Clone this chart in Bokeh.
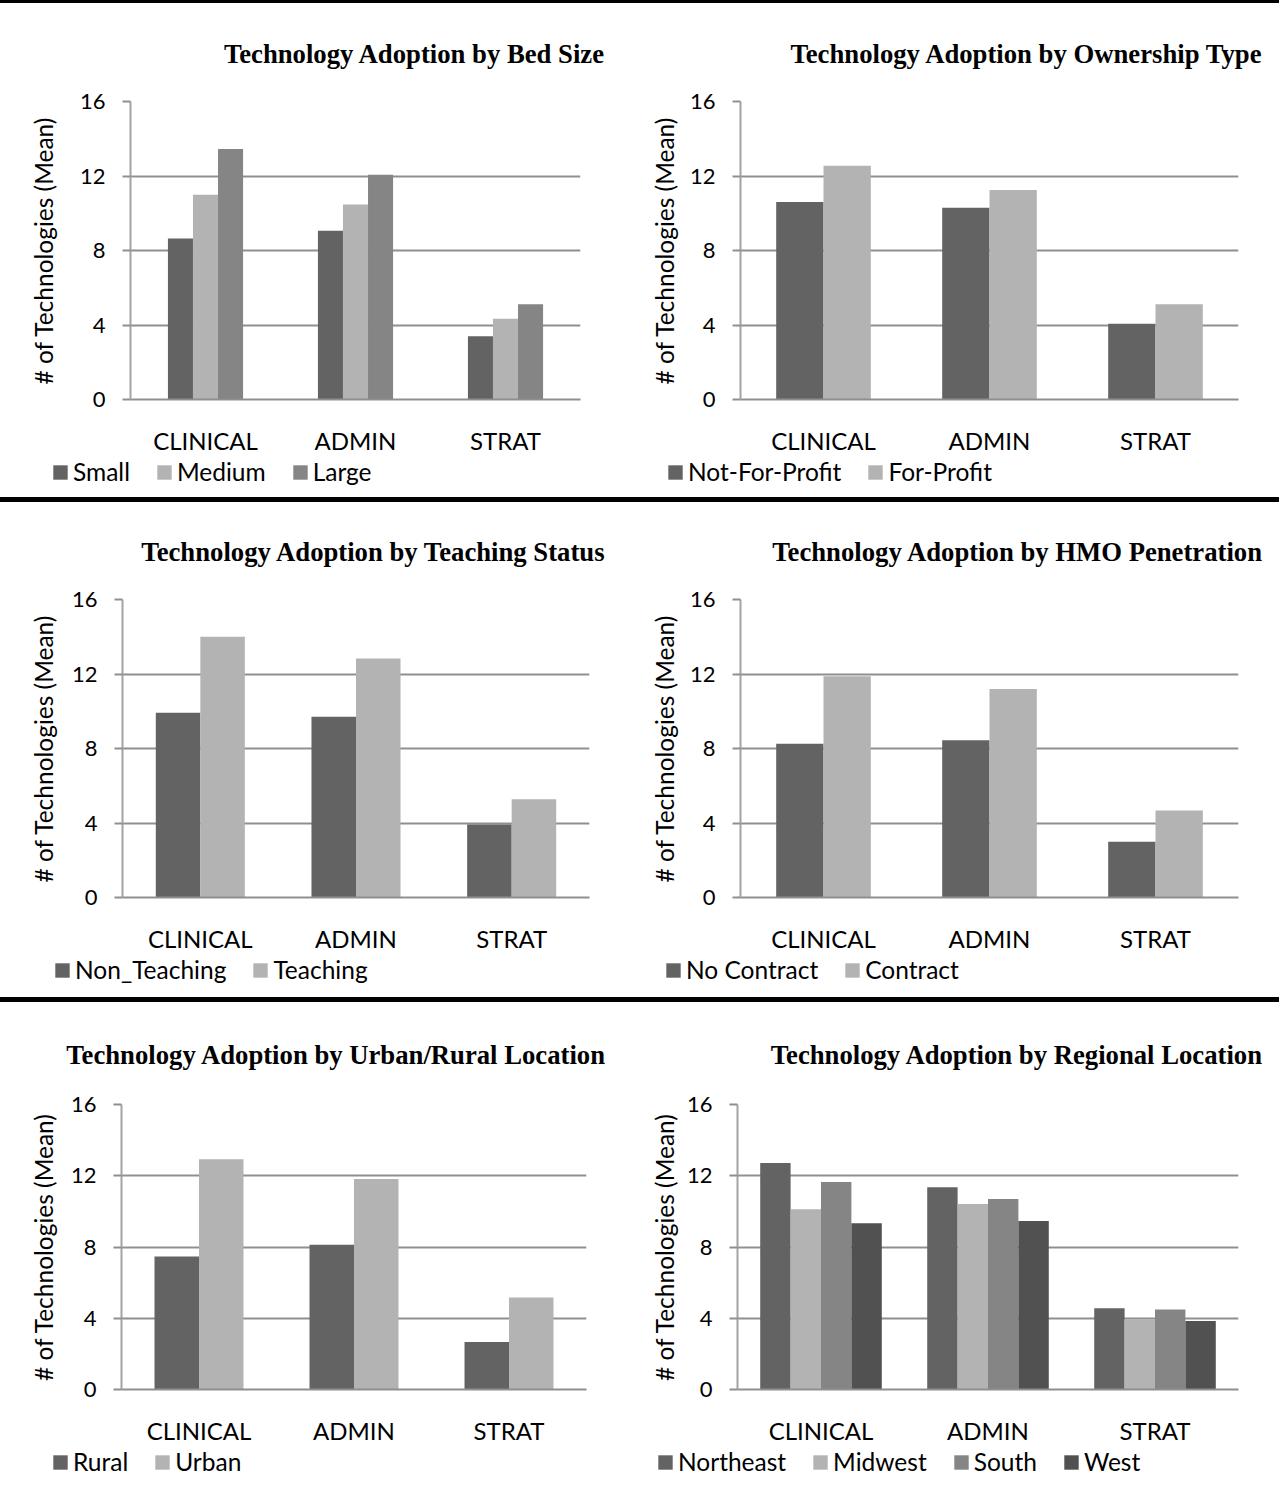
from bokeh.plotting import figure
from bokeh.models import (FactorRange, Range1d, FixedTicker, Legend, LegendItem,
                          Div, ColumnDataSource)
from bokeh.transform import dodge
from bokeh.layouts import column, row
from bokeh.embed import file_html
from bokeh.resources import INLINE

# ---------------- data ----------------
categories = ["CLINICAL", "ADMIN", "STRAT"]
y_ticks = [0, 4, 8, 12, 16]

bed_labels = ["Small", "Medium", "Large"]
bed_small = [8.65, 9.06, 3.40]
bed_medium = [11.0, 10.47, 4.33]
bed_large = [13.45, 12.07, 5.11]

own_labels = ["Not-For-Profit", "For-Profit"]
own_nfp = [10.61, 10.30, 4.07]
own_fp = [12.55, 11.25, 5.11]

teach_labels = ["Non_Teaching", "Teaching"]
teach_non = [9.92, 9.70, 3.92]
teach_yes = [14.0, 12.83, 5.27]

hmo_labels = ["No Contract", "Contract"]
hmo_no = [8.25, 8.44, 2.99]
hmo_yes = [11.88, 11.20, 4.67]

loc_labels = ["Rural", "Urban"]
loc_rural = [7.46, 8.12, 2.67]
loc_urban = [12.93, 11.82, 5.17]

reg_labels = ["Northeast", "Midwest", "South", "West"]
reg_ne = [12.72, 11.35, 4.56]
reg_mw = [10.12, 10.42, 3.94]
reg_s = [11.65, 10.69, 4.49]
reg_w = [9.33, 9.46, 3.84]

# ---------------- style ----------------
C1, C2, C3, C4 = "#636363", "#b3b3b3", "#858585", "#515151"
GRID = "#8f8f8f"
AXIS = "#a3a3a3"
SANS = "Lato"


def add_bars(p, series, colors, bar_w, visible=True):
    n = len(series)
    rs = []
    for i, (vals, col) in enumerate(zip(series, colors)):
        src = ColumnDataSource(dict(cat=categories, val=vals))
        off = (i - (n - 1) / 2.0) * bar_w
        r = p.vbar(x=dodge("cat", off, range=p.x_range), top="val", width=bar_w,
                   source=src, fill_color=col, line_color=None)
        r.visible = visible
        rs.append(r)
    return rs


def chart(title, series, colors, bar_w, w, h, bl, br, bt, bb,
          title_off, title_standoff, ylab_standoff):
    p = figure(x_range=FactorRange(*categories), y_range=Range1d(0, 16),
               width=w, height=h, min_border_left=bl, min_border_right=br,
               min_border_top=bt, min_border_bottom=bb, frame_align=False,
               output_backend="svg", toolbar_location=None, title=title)
    p.outline_line_color = None
    p.background_fill_color = "white"
    p.border_fill_color = "white"

    p.title.align = "right"
    p.title.offset = title_off
    p.title.standoff = title_standoff
    p.title.text_font = "Liberation Serif"
    p.title.text_font_style = "bold"
    p.title.text_font_size = "26.7px"
    p.title.text_color = "black"

    add_bars(p, series, colors, bar_w)

    ya = p.yaxis[0]
    ya.ticker = FixedTicker(ticks=y_ticks)
    ya.axis_label = "# of Technologies (Mean)"
    ya.axis_label_text_font = SANS
    ya.axis_label_text_font_size = "24.5px"
    ya.axis_label_text_font_style = "normal"
    ya.axis_label_text_color = "black"
    ya.axis_label_standoff = ylab_standoff
    ya.major_label_text_font = SANS
    ya.major_label_text_font_size = "22px"
    ya.major_label_text_color = "black"
    ya.major_label_standoff = 17
    ya.major_tick_out = 8
    ya.major_tick_in = 0
    ya.major_tick_line_color = GRID
    ya.major_tick_line_width = 2
    ya.minor_tick_line_color = None
    ya.axis_line_color = AXIS
    ya.axis_line_width = 2

    xa = p.xaxis[0]
    xa.major_label_text_font = SANS
    xa.major_label_text_font_size = "24px"
    xa.major_label_text_color = "black"
    xa.major_label_standoff = 20
    xa.major_tick_line_color = None
    xa.minor_tick_line_color = None
    xa.axis_line_color = GRID
    xa.axis_line_width = 2

    p.xgrid.grid_line_color = None
    p.ygrid.grid_line_color = GRID
    p.ygrid.grid_line_width = 2
    p.ygrid.ticker = FixedTicker(ticks=y_ticks)
    return p


def legend_strip(labels, series, colors, bar_w, w, h, lx, ly):
    q = figure(width=w, height=h, x_range=FactorRange(*categories),
               y_range=Range1d(0, 16), frame_align=False,
               min_border_left=0, min_border_right=0, min_border_top=0,
               min_border_bottom=0, output_backend="svg", toolbar_location=None)
    q.axis.visible = False
    q.grid.grid_line_color = None
    q.outline_line_color = None
    q.background_fill_color = "white"
    q.border_fill_color = "white"
    rs = add_bars(q, series, colors, bar_w, visible=False)
    items = [LegendItem(label=lab, renderers=[r]) for lab, r in zip(labels, rs)]
    leg = Legend(items=items, orientation="horizontal", location=(lx, ly),
                 border_line_color=None, background_fill_alpha=0,
                 inactive_fill_alpha=0, click_policy="none",
                 padding=0, margin=0, spacing=25, glyph_width=18, glyph_height=18,
                 label_standoff=4, label_text_font=SANS, label_text_font_size="24.5px",
                 label_text_color="black", label_height=28)
    q.add_layout(leg)
    return q


LW, RW = 640, 639

bed = [bed_small, bed_medium, bed_large]
own = [own_nfp, own_fp]
teach = [teach_non, teach_yes]
hmo = [hmo_no, hmo_yes]
loc = [loc_rural, loc_urban]
reg = [reg_ne, reg_mw, reg_s, reg_w]

# row 1  (3 .. 497)
p1 = chart("Technology Adoption by Bed Size", bed, [C1, C2, C3], 0.167,
           LW, 454, 130, 60, 98, 58, -25, 66, 19)
l1 = legend_strip(bed_labels, bed, [C1, C2, C3], 0.167, LW, 40, 51, 11)
p2 = chart("Technology Adoption by Ownership Type", own, [C1, C2], 0.285,
           RW, 454, 100, 41, 98, 58, -25, 66, 8)
l2 = legend_strip(own_labels, own, [C1, C2], 0.285, RW, 40, 26, 11)
# row 2  (502 .. 997)
p3 = chart("Technology Adoption by Teaching Status", teach, [C1, C2], 0.286,
           LW, 453, 122, 51, 97, 58, -17, 65, 11)
l3 = legend_strip(teach_labels, teach, [C1, C2], 0.286, LW, 42, 53, 13)
p4 = chart("Technology Adoption by HMO Penetration", hmo, [C1, C2], 0.285,
           RW, 453, 100, 41, 97, 58, -25, 65, 8)
l4 = legend_strip(hmo_labels, hmo, [C1, C2], 0.285, RW, 42, 24, 13)
# row 3  (1002 .. 1491)
p5 = chart("Technology Adoption by Urban/Rural Location", loc, [C1, C2], 0.287,
           LW, 445, 121, 54, 102, 58, -20, 70, 10)
l5 = legend_strip(loc_labels, loc, [C1, C2], 0.287, LW, 44, 51, 15)
p6 = chart("Technology Adoption by Regional Location", reg, [C1, C2, C3, C4], 0.182,
           RW, 445, 97, 41, 102, 58, -25, 70, 5)
l6 = legend_strip(reg_labels, reg, [C1, C2, C3, C4], 0.182, RW, 44, 16, 15)


def bar(hh):
    return Div(text="", width=LW + RW, height=hh, margin=0,
               styles={"background-color": "black"})


def cell(a, b):
    return column(a, b, spacing=0)


layout = column(bar(3),
                row(cell(p1, l1), cell(p2, l2), spacing=0),
                bar(5),
                row(cell(p3, l3), cell(p4, l4), spacing=0),
                bar(5),
                row(cell(p5, l5), cell(p6, l6), spacing=0),
                spacing=0)

open("out.html", "w").write(file_html(layout, INLINE))
